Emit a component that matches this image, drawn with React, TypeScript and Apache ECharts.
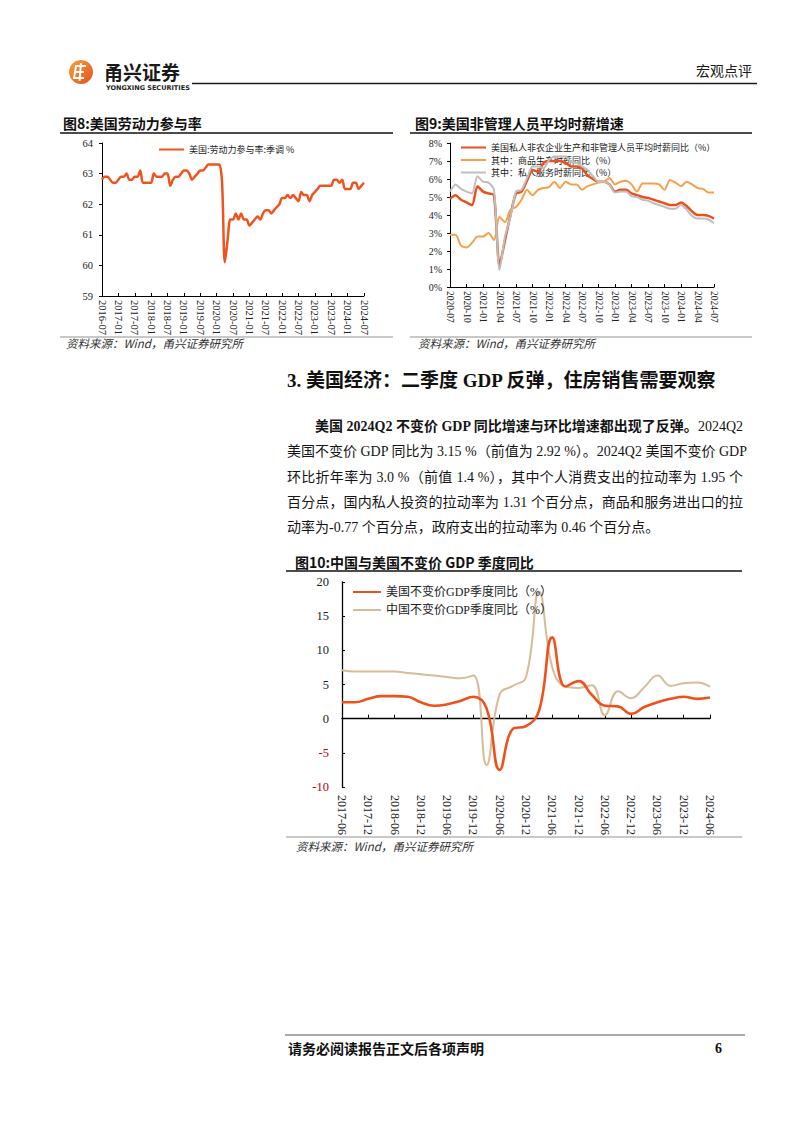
import React, { useEffect, useRef } from 'react';
import * as echarts from 'echarts';

function periodRange(start: string, end: string, step: number): string[] {
  const out: string[] = [];
  let [y, m] = start.split('-').map(Number);
  const [ey, em] = end.split('-').map(Number);
  while (y < ey || (y === ey && m <= em)) {
    out.push(`${y}-${String(m).padStart(2, '0')}`);
    m += step;
    while (m > 12) { m -= 12; y += 1; }
  }
  return out;
}

// Figure 8: US labor force participation rate (monthly)
const lfprMonths = periodRange('2016-07', '2024-07', 1);
const lfprValues = [
  62.8, 62.9, 62.9, 62.8, 62.7, 62.7,
  62.8, 62.9, 62.9, 63.0, 62.8, 62.8, 62.9, 62.9, 63.1, 62.7, 62.7, 62.7,
  62.7, 63.0, 62.9, 62.9, 62.9, 63.0, 63.0, 62.6, 62.8, 62.9, 62.9, 63.0,
  63.1, 63.1, 63.0, 62.8, 62.9, 63.0, 63.1, 63.1, 63.2, 63.3, 63.3, 63.3,
  63.3, 63.3, 62.7, 60.1, 60.8, 61.5, 61.5, 61.7, 61.5, 61.7, 61.5, 61.5,
  61.3, 61.4, 61.5, 61.6, 61.5, 61.7, 61.8, 61.8, 61.7, 61.8, 61.9, 62.0,
  62.2, 62.2, 62.3, 62.2, 62.3, 62.2, 62.1, 62.4, 62.3, 62.3, 62.1, 62.3,
  62.4, 62.5, 62.6, 62.6, 62.6, 62.6, 62.6, 62.8, 62.8, 62.7, 62.8, 62.5,
  62.5, 62.5, 62.7, 62.7, 62.5, 62.6, 62.7,
];

// Figure 9: US hourly earnings growth (monthly)
const wageMonths = periodRange('2020-07', '2024-07', 1);
const wageTotal = [
  4.9, 5.1, 4.85, 4.7, 4.55, 5.6, 5.3, 5.2, 5.1, 1.2,
  2.6, 4.0, 5.2, 5.3, 5.9, 6.5, 6.4, 6.9, 7.0, 7.0,
  7.0, 6.9, 6.7, 6.7, 6.6, 6.2, 6.0, 5.85, 5.85, 5.7,
  5.3, 5.4, 5.4, 5.2, 5.1, 5.0, 4.95, 4.85, 4.75, 4.65,
  4.55, 4.55, 4.7, 4.5, 4.2, 4.0, 4.0, 3.95, 3.8,
];
const wageGoods = [
  2.9, 2.9, 2.3, 2.2, 2.45, 2.8, 2.8, 3.0, 2.6, 3.9,
  3.6, 4.3, 4.45, 4.85, 5.4, 5.1, 5.4, 5.5, 5.55, 5.85,
  5.5, 5.85, 5.7, 5.7, 5.4, 5.6, 5.7, 5.8, 5.85, 6.05,
  5.7, 5.85, 5.9, 5.7, 5.3, 5.75, 5.75, 5.75, 5.7, 5.4,
  5.95, 5.8, 5.6, 5.85, 5.7, 5.5, 5.45, 5.25, 5.25,
];
const wageServices = [
  5.3, 5.7, 5.45, 5.3, 5.2, 6.15, 5.85, 5.8, 5.4, 0.95,
  2.8, 3.9, 5.3, 5.4, 6.05, 6.7, 6.7, 6.6, 7.05, 7.25,
  7.25, 7.25, 6.95, 6.9, 6.7, 6.5, 6.15, 5.85, 5.85, 5.7,
  5.25, 5.3, 5.3, 5.05, 5.0, 4.85, 4.8, 4.65, 4.55, 4.45,
  4.35, 4.35, 4.55, 4.3, 3.95, 3.8, 3.8, 3.75, 3.55,
];

// Figure 10: real GDP YoY, quarterly
const gdpQuarters = periodRange('2017-06', '2024-06', 3);
const gdpUS = [
  2.4, 2.4, 2.9, 3.3, 3.3, 3.2, 2.4, 1.9, 2.1, 2.6,
  3.2, 1.5, -7.5, -1.5, -1.1, 1.2, 11.9, 4.7, 5.5, 3.5,
  1.9, 1.8, 0.7, 1.7, 2.4, 2.9, 3.2, 2.9, 3.1,
];
const gdpChina = [
  7.1, 6.9, 6.9, 6.9, 6.9, 6.7, 6.5, 6.3, 6.1, 5.9,
  6.3, -6.8, 3.6, 4.8, 6.1, 18.6, 7.5, 4.7, 4.5, 4.9,
  0.5, 4.0, 3.0, 4.6, 6.3, 4.8, 5.2, 5.3, 4.7,
];

const SERIF = '"Liberation Serif", "Noto Sans CJK SC", serif';
const CJK = '"Noto Sans CJK SC", sans-serif';
const SOURCE_TEXT = '资料来源：Wind，甬兴证券研究所';

const axisLineStyle = { color: '#000', width: 1 };
const hiddenSymbol = { opacity: 0 };

function buildOption() {
  const txt = (x: number, y: number, text: string, o: any = {}) => ({
    type: 'text', x, y, silent: true,
    style: {
      text, fill: o.fill || '#111', fontSize: o.size || 12, fontFamily: o.family || CJK,
      fontWeight: o.weight || 'normal', fontStyle: o.style || 'normal',
      align: o.align || 'left', verticalAlign: 'middle',
    },
  });
  const ln = (x1: number, y1: number, x2: number, y2: number, w = 1, c = '#111') => ({
    type: 'line', silent: true, shape: { x1, y1, x2, y2 }, style: { stroke: c, lineWidth: w },
  });

  const catX = (gridIndex: number, data: string[], interval: number, fontSize: number, margin: number) => ({
    gridIndex, type: 'category', data, boundaryGap: false,
    axisLine: { show: true, onZero: false, lineStyle: axisLineStyle },
    axisTick: { show: true, inside: true, length: 3, interval, lineStyle: axisLineStyle },
    axisLabel: { interval, rotate: -90, fontSize, fontFamily: SERIF, color: '#222', margin },
    splitLine: { show: false },
  });

  return {
    animation: false,
    backgroundColor: '#ffffff',
    grid: [
      { left: 102, top: 143, width: 262, height: 153, containLabel: false, outerBoundsMode: 'none' },
      { left: 450, top: 143, width: 264, height: 144, containLabel: false, outerBoundsMode: 'none' },
      { left: 342, top: 582, width: 368, height: 205, containLabel: false, outerBoundsMode: 'none' },
    ],
    xAxis: [
      catX(0, lfprMonths, 5, 10.5, 4),
      catX(1, wageMonths, 2, 9.5, 4),
      {
        gridIndex: 2, type: 'category', data: gdpQuarters, boundaryGap: false, position: 'bottom',
        axisLine: { show: false, onZero: false }, axisTick: { show: false },
        axisLabel: { interval: 1, rotate: -90, fontSize: 12, fontFamily: SERIF, color: '#222', margin: 8 },
        splitLine: { show: false },
      },
      {
        gridIndex: 2, type: 'category', data: gdpQuarters, boundaryGap: false, position: 'top',
        axisLine: { show: true, onZero: true, lineStyle: { color: '#000', width: 1.3 } },
        axisTick: { show: true, inside: false, length: 4, interval: 1, lineStyle: axisLineStyle },
        axisLabel: { show: false }, splitLine: { show: false },
      },
    ],
    yAxis: [
      {
        gridIndex: 0, type: 'value', min: 59, max: 64, interval: 1,
        axisLine: { show: true, lineStyle: axisLineStyle },
        axisTick: { show: true, length: 3, lineStyle: axisLineStyle },
        axisLabel: { fontSize: 10.5, fontFamily: SERIF, color: '#222', margin: 9 },
        splitLine: { show: false },
      },
      {
        gridIndex: 1, type: 'value', min: 0, max: 8, interval: 1,
        axisLine: { show: true, lineStyle: axisLineStyle },
        axisTick: { show: true, length: 3, lineStyle: axisLineStyle },
        axisLabel: { fontSize: 10, fontFamily: SERIF, color: '#222', margin: 8, formatter: '{value}%' },
        splitLine: { show: false },
      },
      {
        gridIndex: 2, type: 'value', min: -10, max: 20, interval: 5,
        axisLine: { show: true, onZero: false, lineStyle: { color: '#000', width: 1.3 } },
        axisTick: { show: true, inside: true, length: 3, lineStyle: axisLineStyle },
        axisLabel: {
          fontSize: 12.5, fontFamily: SERIF, margin: 13,
          color: (v: any) => (Number(v) < 0 ? '#C00000' : '#222'),
        },
        splitLine: { show: false },
      },
    ],
    legend: [
      {
        data: ['美国:劳动力参与率:季调 %'], left: 158, top: 145, padding: 0,
        itemWidth: 25, itemHeight: 10, itemGap: 5, itemStyle: hiddenSymbol,
        textStyle: { fontSize: 9, fontFamily: CJK, color: '#222' },
      },
      {
        data: ['美国私人非农企业生产和非管理人员平均时薪同比（%）', '其中：商品生产时薪同比（%）', '其中：私人服务时薪同比（%）'],
        orient: 'vertical', left: 460, top: 143, padding: 0, z: 1,
        itemWidth: 25, itemHeight: 10, itemGap: 3.5, itemStyle: hiddenSymbol,
        textStyle: { fontSize: 9, fontFamily: CJK, color: '#222' },
      },
      {
        data: ['美国不变价GDP季度同比（%）', '中国不变价GDP季度同比（%）'],
        orient: 'vertical', left: 352, top: 586, padding: 0,
        itemWidth: 28, itemHeight: 14, itemGap: 6, itemStyle: hiddenSymbol,
        textStyle: { fontSize: 12, fontFamily: SERIF, color: '#222' },
      },
    ],
    series: [
      {
        name: '美国:劳动力参与率:季调 %', type: 'line', xAxisIndex: 0, yAxisIndex: 0,
        data: lfprValues, symbol: 'none', smooth: 0.3,
        lineStyle: { color: '#F0541E', width: 2.5 }, itemStyle: { color: '#F0541E' },
      },
      {
        name: '美国私人非农企业生产和非管理人员平均时薪同比（%）', type: 'line', xAxisIndex: 1, yAxisIndex: 1,
        data: wageTotal, symbol: 'none', smooth: 0.25,
        lineStyle: { color: '#E9501C', width: 2.5 }, itemStyle: { color: '#E9501C' },
      },
      {
        name: '其中：商品生产时薪同比（%）', type: 'line', xAxisIndex: 1, yAxisIndex: 1,
        data: wageGoods, symbol: 'none', smooth: 0.25,
        lineStyle: { color: '#F6A04C', width: 2 }, itemStyle: { color: '#F6A04C' },
      },
      {
        name: '其中：私人服务时薪同比（%）', type: 'line', xAxisIndex: 1, yAxisIndex: 1,
        data: wageServices, symbol: 'none', smooth: 0.25,
        lineStyle: { color: '#BEBEBE', width: 2 }, itemStyle: { color: '#BEBEBE' },
      },
      {
        name: '美国不变价GDP季度同比（%）', type: 'line', xAxisIndex: 2, yAxisIndex: 2,
        data: gdpUS, symbol: 'none', smooth: 0.45, z: 3,
        lineStyle: { color: '#F0501A', width: 2.6 }, itemStyle: { color: '#F0501A' },
      },
      {
        name: '中国不变价GDP季度同比（%）', type: 'line', xAxisIndex: 2, yAxisIndex: 2,
        data: gdpChina, symbol: 'none', smooth: 0.45, z: 2,
        lineStyle: { color: '#D6BC98', width: 2 }, itemStyle: { color: '#D6BC98' },
      },
    ],
    graphic: [
      // header logo
      {
        type: 'circle', silent: true, shape: { cx: 81, cy: 72, r: 12 },
        style: {
          fill: new echarts.graphic.LinearGradient(0, 0, 1, 1, [
            { offset: 0, color: '#F7A23A' }, { offset: 1, color: '#E5501E' },
          ]),
        },
      },
      {
        type: 'polyline', silent: true,
        shape: { points: [[86, 66], [76, 66], [75, 72], [84, 72], [75, 72], [74, 78], [84, 78]] },
        style: { stroke: '#fff', lineWidth: 2, fill: null },
      },
      ln(81, 63, 79.5, 81, 2, '#fff'),
      txt(104, 71, '甬兴证券', { size: 19, weight: 'bold', fill: '#1a1a1a' }),
      txt(106, 88, 'YONGXING SECURITIES', { size: 6.5, weight: 'bold', family: '"DejaVu Sans", sans-serif', fill: '#222' }),
      ln(192, 83.5, 757, 83.5, 1.6, '#1a1a1a'),
      txt(752, 70, '宏观点评', { size: 14, align: 'right', fill: '#1a1a1a' }),

      // figure 8 frame
      txt(63, 123, '图8:美国劳动力参与率', { size: 14, weight: 'bold', fill: '#111' }),
      ln(60, 133, 393, 133, 1.3),
      ln(60, 337, 393, 337, 0.8, '#777'),
      txt(66, 343, SOURCE_TEXT, { size: 11.5, style: 'italic', fill: '#333' }),

      // figure 9 frame
      txt(415, 123, '图9:美国非管理人员平均时薪增速', { size: 14, weight: 'bold', fill: '#111' }),
      ln(410, 133, 752, 133, 1.3),
      ln(410, 337, 752, 337, 0.8, '#777'),
      txt(418, 343, SOURCE_TEXT, { size: 11.5, style: 'italic', fill: '#333' }),

      // figure 10 frame
      txt(295, 562, '图10:中国与美国不变价 GDP 季度同比', { size: 14, weight: 'bold', fill: '#111' }),
      ln(286, 571, 742, 571, 1.3),
      ln(286, 837, 742, 837, 0.8, '#777'),
      txt(296, 846, SOURCE_TEXT, { size: 11.5, style: 'italic', fill: '#333' }),

      // footer
      ln(285, 1035, 745, 1035, 1, '#555'),
      txt(288, 1048, '请务必阅读报告正文后各项声明', { size: 14, weight: 'bold', fill: '#111' }),
      txt(722, 1048, '6', { size: 14, weight: 'bold', family: SERIF, fill: '#111', align: 'right' }),
    ],
  };
}

const paraLines: { parts: { t: string; b?: boolean }[]; indent?: boolean; last?: boolean }[] = [
  { indent: true, parts: [{ t: '美国 2024Q2 不变价 GDP 同比增速与环比增速都出现了反弹。', b: true }, { t: '2024Q2' }] },
  { parts: [{ t: '美国不变价 GDP 同比为 3.15 %（前值为 2.92 %）。2024Q2 美国不变价 GDP' }] },
  { parts: [{ t: '环比折年率为 3.0 %（前值 1.4 %），其中个人消费支出的拉动率为 1.95 个' }] },
  { parts: [{ t: '百分点，国内私人投资的拉动率为 1.31 个百分点，商品和服务进出口的拉' }] },
  { last: true, parts: [{ t: '动率为-0.77 个百分点，政府支出的拉动率为 0.46 个百分点。' }] },
];

export default function App() {
  const ref = useRef<HTMLDivElement>(null);
  useEffect(() => {
    if (!ref.current) return;
    const chart = echarts.init(ref.current, undefined, { renderer: 'svg' });
    chart.setOption(buildOption() as any);
    return () => chart.dispose();
  }, []);

  const lineTop0 = 414;
  const lineH = 25.3;

  return (
    <div style={{ position: 'absolute', left: 0, top: 0, width: 802, height: 1133, background: '#fff', overflow: 'hidden' }}>
      <div ref={ref} style={{ position: 'absolute', left: 0, top: 0, width: 802, height: 1133 }} />
      <div
        style={{
          position: 'absolute', left: 287, top: 367, height: 28, lineHeight: '28px', whiteSpace: 'nowrap',
          fontSize: 19, fontWeight: 'bold', fontFamily: SERIF, color: '#111',
        }}
      >
        3. 美国经济：二季度 GDP 反弹，住房销售需要观察
      </div>
      {paraLines.map((ln, i) => (
        <div
          key={i}
          style={{
            position: 'absolute', left: 287, width: 456, top: lineTop0 + i * lineH, height: lineH,
            lineHeight: `${lineH}px`, fontSize: 14, fontFamily: SERIF, color: '#151515',
            whiteSpace: 'nowrap', boxSizing: 'border-box', paddingLeft: ln.indent ? 28 : 0,
            textAlign: ln.last ? 'left' : 'justify', textAlignLast: ln.last ? 'left' : 'justify',
          } as React.CSSProperties}
        >
          {ln.parts.map((p, j) => (
            <span key={j} style={{ fontWeight: p.b ? 'bold' : 'normal' }}>{p.t}</span>
          ))}
        </div>
      ))}
    </div>
  );
}
